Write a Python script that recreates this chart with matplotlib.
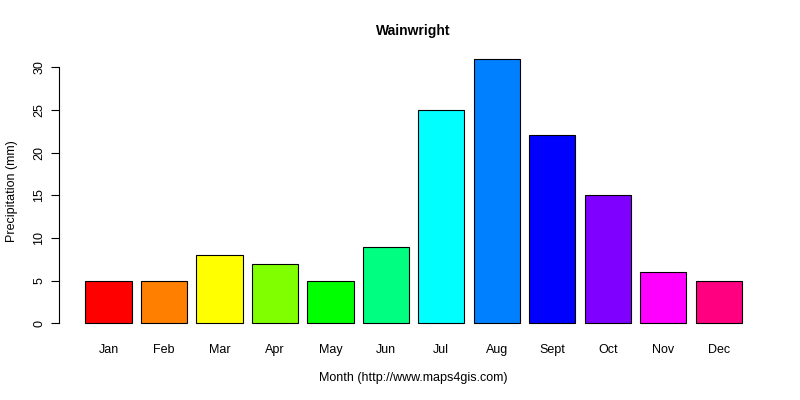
import matplotlib.pyplot as plt
import numpy as np

plt.rcParams['font.family'] = ['Liberation Sans', 'DejaVu Sans']

months = ['Jan', 'Feb', 'Mar', 'Apr', 'May', 'Jun', 'Jul', 'Aug', 'Sept', 'Oct', 'Nov', 'Dec']
precip = [5, 5, 8, 7, 5, 9, 25, 31, 22, 15, 6, 5]
colors = ['#FF0000', '#FF8000', '#FFFF00', '#80FF00', '#00FF00', '#00FF80',
          '#00FFFF', '#0080FF', '#0000FF', '#8000FF', '#FF00FF', '#FF0080']
yticks = [0, 5, 10, 15, 20, 25, 30]

fig = plt.figure(figsize=(8, 4), dpi=100)
ax = fig.add_axes([0.074, 0.165, 0.886, 0.715])

# R barplot style positions: width 1, space 0.2
x = 0.2 + 1.2 * np.arange(len(months)) + 0.5
ax.bar(x, precip, width=1.0, color=colors, edgecolor='black', linewidth=0.8)

xmin, xmax = 0.2, 0.2 + 1.2 * len(months) - 0.2
pad = 0.04 * (xmax - xmin)
ax.set_xlim(xmin - pad, xmax + pad)
ymax = max(precip)
ax.set_ylim(-0.04 * ymax, ymax * 1.04)

for s in ['top', 'right', 'bottom']:
    ax.spines[s].set_visible(False)
ax.spines['left'].set_bounds(0, 30)

ax.set_yticks(yticks)
ax.set_yticklabels([str(v) for v in yticks], rotation=90, va='center', fontsize=9)
ax.tick_params(axis='y', length=6, pad=4)
ax.set_xticks(x)
ax.set_xticklabels(months, fontsize=9)
ax.tick_params(axis='x', length=0, pad=7)

ax.set_title('Wainwright', fontsize=10, fontweight='bold', pad=9)
ax.set_xlabel('Month (http://www.maps4gis.com)', fontsize=9, labelpad=12)
ax.set_ylabel('Precipitation (mm)', fontsize=9, labelpad=11)

fig.savefig('out.png', dpi=100)
